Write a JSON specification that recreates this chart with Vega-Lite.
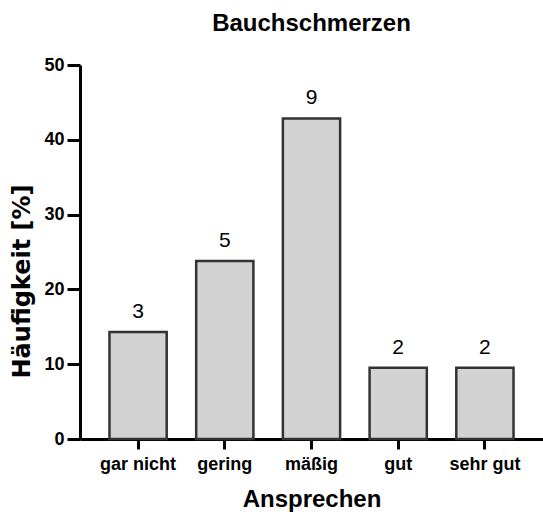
{
  "$schema": "https://vega.github.io/schema/vega-lite/v6.json",
  "autosize": "none",
  "width": 463,
  "height": 374,
  "padding": {"left": 80, "top": 65, "right": 0, "bottom": 77},
  "title": {"text": "Bauchschmerzen", "font": "Liberation Sans", "fontSize": 24, "fontWeight": "bold", "color": "#000", "anchor": "middle", "offset": 20},
  "data": {"values": [
    {"Ansprechen": "gar nicht", "n": 3, "pct": 14.29},
    {"Ansprechen": "gering", "n": 5, "pct": 23.81},
    {"Ansprechen": "mäßig", "n": 9, "pct": 42.86},
    {"Ansprechen": "gut", "n": 2, "pct": 9.52},
    {"Ansprechen": "sehr gut", "n": 2, "pct": 9.52}
  ]},
  "config": {
    "view": {"stroke": null},
    "axis": {"grid": false, "domainColor": "#000", "domainWidth": 3, "tickColor": "#000", "tickWidth": 3, "labelFont": "Liberation Sans", "labelFontWeight": "bold", "labelColor": "#000", "titleFont": "Liberation Sans", "titleFontWeight": "bold", "titleColor": "#000", "titleFontSize": 24}
  },
  "encoding": {
    "x": {"field": "Ansprechen", "type": "nominal", "sort": null,
      "scale": {"paddingInner": 0.34, "paddingOuter": 0.34},
      "axis": {"labelAngle": 0, "labelFontSize": 18, "tickSize": 10, "labelPadding": 6, "titlePadding": 14, "title": "Ansprechen"}},
    "y": {"field": "pct", "type": "quantitative",
      "scale": {"domain": [0, 50], "nice": false},
      "axis": {"values": [0, 10, 20, 30, 40, 50], "labelFontSize": 18, "tickSize": 13, "labelPadding": 3, "titlePadding": 9, "titleFont": "DejaVu Sans", "titleFontSize": 24, "titleY": 216, "title": "Häufigkeit [%]"}}
  },
  "layer": [
    {"mark": {"type": "bar", "fill": "#d3d3d3", "stroke": "#333333", "strokeWidth": 2.5}},
    {"mark": {"type": "text", "baseline": "alphabetic", "dy": -14, "font": "Liberation Sans", "fontSize": 21, "color": "#000"},
     "encoding": {"text": {"field": "n", "type": "quantitative"}}}
  ]
}
